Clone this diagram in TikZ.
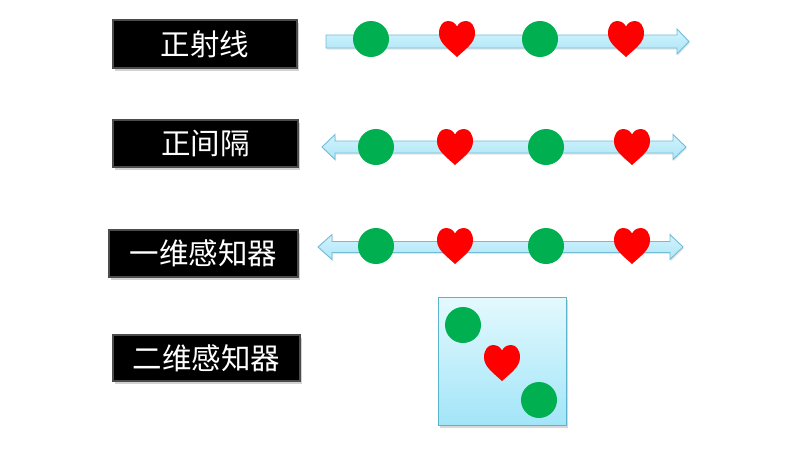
\documentclass[tikz,border=0pt]{standalone}
\usepackage{fontspec}
\newfontfamily\cjk{Noto Sans CJK SC}
\usetikzlibrary{shadows}
\definecolor{dotgreen}{HTML}{00B050}
\definecolor{heartred}{HTML}{FF0000}
\definecolor{arrowtop}{HTML}{D2F3FD}
\definecolor{arrowbot}{HTML}{ADE5F7}
\definecolor{arrowedge}{HTML}{72BCD6}
\definecolor{paneltop}{HTML}{E4F9FE}
\definecolor{panelbot}{HTML}{A2E5F8}
\definecolor{paneledge}{HTML}{5BB3CC}
\tikzset{
  labelbox/.style={fill=black, draw=black!70, line width=1.4pt, text=white,
    font=\cjk\fontsize{29.5}{29.5}\selectfont, inner sep=0pt,
    drop shadow={shadow xshift=1.5pt, shadow yshift=-2.5pt, opacity=0.35}},
  dot/.style={circle, fill=dotgreen, minimum size=36pt, inner sep=0pt},
  axisarrow/.style={top color=arrowtop, bottom color=arrowbot, draw=arrowedge, line width=0.9pt, line join=miter,
    drop shadow={shadow xshift=1pt, shadow yshift=-1.5pt, opacity=0.2}},
  panel/.style={rectangle, top color=paneltop, bottom color=panelbot, draw=paneledge, line width=0.9pt,
    minimum size=128pt, inner sep=0pt,
    drop shadow={shadow xshift=1.5pt, shadow yshift=-2.5pt, opacity=0.3}},
  heart/.pic={
    \fill[heartred] (0,18) .. controls (-8,10.5) and (-18,4) .. (-18,-5.5)
      .. controls (-18,-13.5) and (-14,-18) .. (-9,-18)
      .. controls (-4.5,-18) and (-1.5,-15.5) .. (0,-12.5)
      .. controls (1.5,-15.5) and (4.5,-18) .. (9,-18)
      .. controls (14,-18) and (18,-13.5) .. (18,-5.5)
      .. controls (18,4) and (8,10.5) .. (0,18) -- cycle;
  }
}
\begin{document}
\begin{tikzpicture}[x=1pt,y=-1pt]
\useasboundingbox (0,0) rectangle (787,448);
\fill[white] (0,0) rectangle (787,448);

% labels
\node[labelbox, minimum width=184pt, minimum height=48pt] (l1) at (205,44) {正射线};
\node[labelbox, minimum width=185pt, minimum height=47pt] (l2) at (205.5,143.5) {正间隔};
\node[labelbox, minimum width=189pt, minimum height=47pt] (l3) at (203.5,253.5) {一维感知器};
\node[labelbox, minimum width=187pt, minimum height=46pt] (l4) at (206.5,358) {二维感知器};

% row 1: ray
\path[axisarrow] (326,35) -- (677,35) -- (677,29) -- (689,41.5) -- (677,54) -- (677,48) -- (326,48) -- cycle;
\node[dot] (r1a) at (371,39) {};
\pic (r1b) at (457,39) {heart};
\node[dot] (r1c) at (540,39) {};
\pic (r1d) at (626,39) {heart};

% row 2: interval
\path[axisarrow] (322,147) -- (335,134.5) -- (335,141) -- (673,141) -- (673,134.5) -- (686,147)
  -- (673,159.5) -- (673,153) -- (335,153) -- (335,159.5) -- cycle;
\node[dot] (r2a) at (376,147) {};
\pic (r2b) at (455,147) {heart};
\node[dot] (r2c) at (546,147) {};
\pic (r2d) at (632,147) {heart};

% row 3: 1D perceptron
\path[axisarrow] (318,247) -- (332,234.5) -- (332,241.5) -- (670,241.5) -- (670,234.5) -- (683,247)
  -- (670,259.5) -- (670,252.5) -- (332,252.5) -- (332,259.5) -- cycle;
\node[dot] (r3a) at (376,246) {};
\pic (r3b) at (455,246) {heart};
\node[dot] (r3c) at (546,246) {};
\pic (r3d) at (632,246) {heart};

% row 4: 2D perceptron
\node[panel] (sq) at (502,361) {};
\node[dot] (r4a) at (463,325) {};
\pic (r4b) at (502,363) {heart};
\node[dot] (r4c) at (539,400) {};
\end{tikzpicture}
\end{document}
